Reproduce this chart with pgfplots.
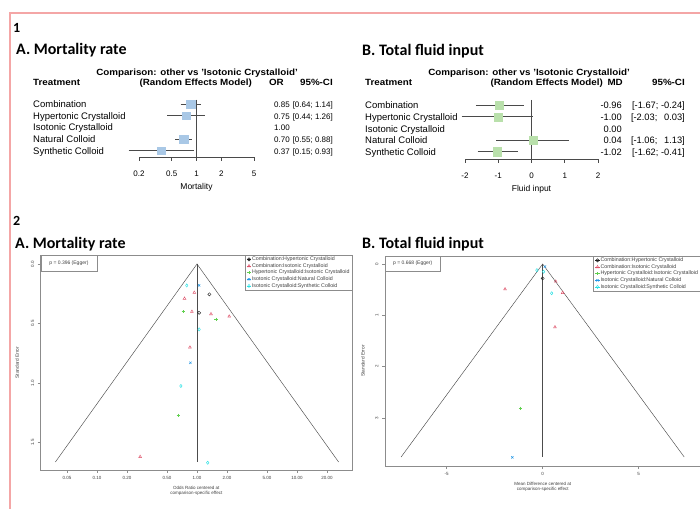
\documentclass[border=0pt]{standalone}
\usepackage{fontspec}
\setmainfont{Liberation Sans}
\newfontfamily\titlefont{Carlito}
\usepackage{pgfplots}
\pgfplotsset{compat=1.18}
\newcommand\fs[1]{\fontsize{#1}{#1}\selectfont}
\newcommand\hd[1]{\scalebox{1.09}[1]{\bfseries\fs{9}#1}}
\definecolor{framec}{HTML}{F4A6A6}
\definecolor{sqA}{HTML}{A9C8E6}
\definecolor{sqB}{HTML}{B9E0AB}
\definecolor{ciC}{HTML}{4A4A4A}
\definecolor{rblack}{HTML}{222222}
\definecolor{rred}{HTML}{DF536B}
\definecolor{rgreen}{HTML}{61D04F}
\definecolor{rblue}{HTML}{2297E6}
\definecolor{rcyan}{HTML}{28E2E5}
\definecolor{axg}{HTML}{8C8C8C}
\pgfplotsset{
  forest/.style={scale only axis, clip=false, y dir=reverse, axis y line=none,
    axis x line=bottom, x axis line style={-, line width=0.6pt, ciC},
    tick align=outside, major tick length=4pt, xtick style={line width=0.6pt, ciC},
    minor xtick={}, /pgf/number format/assume math mode=true,
    xticklabel style={font=\fs{8}, yshift=-6pt},
    xlabel style={font=\fs{8.5}, at={(axis description cs:0.5,0)}, anchor=center, yshift=-30pt}},
  ciline/.style={ciC, line width=0.8pt},
  funnel/.style={scale only axis, clip=false, y dir=reverse,
    axis line style={axg, line width=0.5pt},
    tick align=outside, major tick length=3pt, tick style={axg, line width=0.4pt},
    xtick pos=bottom, ytick pos=left, minor xtick={},
    /pgf/number format/assume math mode=true,
    ticklabel style={font=\fs{4.5}, text=black!75},
    yticklabel style={rotate=90, anchor=south},
    xlabel style={font=\fs{4.5}, align=center, text=black!75},
    ylabel style={font=\fs{4.8}, text=black!75, anchor=center},
    legend style={font=\fs{5.3}, draw=axg, line width=0.4pt, text=black!75,
      at={(1,1)}, anchor=north east, inner xsep=2pt, inner ysep=1.2pt,
      row sep=0.7pt, nodes={inner sep=0.3pt}, cells={anchor=west}},
    legend image code/.code={\path (-2pt,0pt) -- (2.5pt,0pt); \draw[##1] plot coordinates {(0pt,0pt)};},
    tri/.style={gray!60!black, line width=0.45pt}},
  pk/.style={only marks, mark size=1.6pt, line width=0.45pt}
}
\begin{document}
\begin{tikzpicture}[x=1pt,y=1pt]
\useasboundingbox (0,0) rectangle (700,508);
\fill[white] (0,0) rectangle (700,508);
\draw[framec, line width=1.4pt] (10,-2) -- (10,495) -- (702,495);

% titles
\node[anchor=base west, inner sep=0, font=\titlefont\bfseries\fs{14}] at (13,475) {1};
\node[anchor=base west, inner sep=0, font=\titlefont\bfseries\fs{16}] at (16,453) {A. Mortality rate};
\node[anchor=base west, inner sep=0, font=\titlefont\bfseries\fs{16}] at (362,452) {B. Total fluid input};
\node[anchor=base west, inner sep=0, font=\titlefont\bfseries\fs{14}] at (13,282) {2};
\node[anchor=base west, inner sep=0, font=\titlefont\bfseries\fs{16}] at (15,259) {A. Mortality rate};
\node[anchor=base west, inner sep=0, font=\titlefont\bfseries\fs{16}] at (362,259) {B. Total fluid input};

% ---------- Forest A ----------
\begin{scope}[every node/.style={inner sep=0}]
\node[anchor=base] at (197,432.2) {\hd{Comparison: other vs 'Isotonic Crystalloid'}};
\node[anchor=base west] at (33,422.5) {\hd{Treatment}};
\node[anchor=base east] at (252,422.5) {\hd{(Random Effects Model)}};
\node[anchor=base east] at (284,422.5) {\hd{OR}};
\node[anchor=base east] at (333,422.5) {\hd{95\%-CI}};
\foreach \lab/\yy in {Combination/400.2, Hypertonic Crystalloid/388.6, Isotonic Crystalloid/377.0, Natural Colloid/365.4, Synthetic Colloid/353.8}
  \node[anchor=base west, font=\fs{9.5}] at (33,\yy) {\lab};
\foreach \v/\ci/\yy in {0.85/{[0.64; 1.14]}/400.2, 0.75/{[0.44; 1.26]}/388.6, 1.00/{}/377.0, 0.70/{[0.55; 0.88]}/365.4, 0.37/{[0.15; 0.93]}/353.8}{
  \node[anchor=base east, font=\fs{8}] at (290,\yy) {\v};
  \node[anchor=base east, font=\fs{8}] at (333,\yy) {\ci};}
\end{scope}
\begin{axis}[forest, at={(139pt,351pt)}, anchor=south west, width=115pt, height=58.6pt,
  xmode=log, xmin=0.2, xmax=5, ymin=0.5, ymax=5.55,
  xtick={0.2,0.5,1,2,5}, xticklabels={0.2,0.5,1,2,5}, xlabel={Mortality}]
\addplot[ciC, line width=0.6pt] coordinates {(1,0.6) (1,5.55)};
\addplot[only marks, mark=square*, mark size=4.3pt, sqA, mark options={draw=none}] coordinates {(0.85,1) (0.70,4)};
\addplot[only marks, mark=square*, mark size=3.8pt, sqA, mark options={draw=none}] coordinates {(0.75,2) (0.37,5)};
\addplot[ciline] coordinates {(0.64,1) (1.14,1)};
\addplot[ciline] coordinates {(0.44,2) (1.26,2)};
\addplot[ciline] coordinates {(0.55,4) (0.88,4)};
\addplot[ciline] coordinates {(0.15,5) (0.93,5)};
\end{axis}

% ---------- Forest B ----------
\begin{scope}[every node/.style={inner sep=0}]
\node[anchor=base] at (529,432.2) {\hd{Comparison: other vs 'Isotonic Crystalloid'}};
\node[anchor=base west] at (365,422.5) {\hd{Treatment}};
\node[anchor=base east] at (603,422.5) {\hd{(Random Effects Model)}};
\node[anchor=base east] at (623,422.5) {\hd{MD}};
\node[anchor=base east] at (685,422.5) {\hd{95\%-CI}};
\foreach \lab/\yy in {Combination/399.2, Hypertonic Crystalloid/387.55, Isotonic Crystalloid/375.9, Natural Colloid/364.25, Synthetic Colloid/352.6}
  \node[anchor=base west, font=\fs{9.5}] at (365,\yy) {\lab};
\foreach \v/\ci/\yy in {-0.96/{[-1.67; -0.24]}/399.2, -1.00/{[-2.03; \ \,0.03]}/387.55, 0.00/{}/375.9, 0.04/{[-1.06; \ \,1.13]}/364.25, -1.02/{[-1.62; -0.41]}/352.6}{
  \node[anchor=base east, font=\fs{9.3}] at (622,\yy) {\v};
  \node[anchor=base east, font=\fs{9.3}] at (685,\yy) {\ci};}
\end{scope}
\begin{axis}[forest, at={(465pt,349pt)}, anchor=south west, width=133pt, height=59.6pt,
  xmin=-2, xmax=2, ymin=0.5, ymax=5.62,
  xtick={-2,-1,0,1,2}, xticklabels={-2,-1,0,1,2}, xlabel={Fluid input}]
\addplot[ciC, line width=0.6pt] coordinates {(0,0.55) (0,5.62)};
\addplot[only marks, mark=square*, mark size=4.1pt, sqB, mark options={draw=none}] coordinates {(-0.96,1) (-1.00,2) (0.04,4) (-1.02,5)};
\addplot[ciline] coordinates {(-1.67,1) (-0.24,1)};
\addplot[ciline] coordinates {(-2.10,2) (0.03,2)};
\addplot[ciline] coordinates {(-1.06,4) (1.13,4)};
\addplot[ciline] coordinates {(-1.62,5) (-0.41,5)};
\end{axis}

% ---------- Funnel A ----------
\begin{axis}[funnel, at={(40.7pt,38pt)}, anchor=south west, width=311.3pt, height=215pt,
  xmode=log, xmin=0.02735, xmax=35.5, ymin=-0.0756, ymax=1.731,
  xtick={0.05,0.1,0.2,0.5,1,2,5,10,20},
  xticklabels={0.05,0.10,0.20,0.50,1.00,2.00,5.00,10.00,20.00},
  ytick={0,0.5,1,1.5}, yticklabels={0.0,0.5,1.0,1.5},
  xlabel={Odds Ratio centered at\\comparison-specific effect},
  ylabel={Standard Error},
  ylabel style={at={(axis description cs:-0.076,0.5)}}]
\addplot[tri, forget plot] coordinates {(0.03834,1.664) (1,0) (26.08,1.664)};
\addplot[tri, forget plot] coordinates {(1,0) (1,1.664)};
\addplot[pk, rblack, mark=o] coordinates {(1.33,0.255) (1.05,0.41)};
\addlegendentry{Combination:Hypertonic Crystalloid}
\addplot[pk, rred, mark=triangle] coordinates {(0.94,0.24) (0.75,0.29) (0.89,0.40) (1.38,0.42) (2.1,0.44) (0.85,0.70) (0.27,1.62)};
\addlegendentry{Combination:Isotonic Crystalloid}
\addplot[pk, rgreen, mark=+] coordinates {(0.73,0.40) (1.55,0.465) (0.65,1.27)};
\addlegendentry{Hypertonic Crystalloid:Isotonic Crystalloid}
\addplot[pk, rblue, mark=x] coordinates {(1.05,0.18) (0.86,0.83)};
\addlegendentry{Isotonic Crystalloid:Natural Colloid}
\addplot[pk, rcyan, mark=diamond] coordinates {(0.79,0.18) (1.05,0.55) (0.69,1.025) (1.28,1.67)};
\addlegendentry{Isotonic Crystalloid:Synthetic Colloid}
\node[draw=axg, line width=0.4pt, anchor=north west, minimum width=56pt, minimum height=16pt, inner sep=0pt, font=\fs{5}, text=black!75] at (axis description cs:0,1) {p = 0.396 (Egger)};
\end{axis}

% ---------- Funnel B ----------
\begin{axis}[funnel, at={(385pt,42pt)}, anchor=south west, width=315.5pt, height=210pt,
  xmin=-8.21, xmax=8.22, ymin=-0.156, ymax=3.938,
  xtick={-5,0,5}, xticklabels={-5,0,5},
  ytick={0,1,2,3}, yticklabels={0,1,2,3},
  xlabel={Mean Difference centered at\\comparison-specific effect},
  ylabel={Standard Error},
  ylabel style={at={(axis description cs:-0.07,0.5)}}]
\addplot[tri, forget plot] coordinates {(-7.37,3.762) (0,0) (7.37,3.762)};
\addplot[tri, forget plot] coordinates {(0,0) (0,3.762)};
\addplot[pk, rblack, mark=o] coordinates {(0,0.28)};
\addlegendentry{Combination:Hypertonic Crystalloid}
\addplot[pk, rred, mark=triangle] coordinates {(0.68,0.34) (-1.96,0.49) (1.04,0.56) (0.64,1.23)};
\addlegendentry{Combination:Isotonic Crystalloid}
\addplot[pk, rgreen, mark=+] coordinates {(-1.15,2.81)};
\addlegendentry{Hypertonic Crystalloid:Isotonic Crystalloid}
\addplot[pk, rblue, mark=x] coordinates {(0.12,0.05) (-1.58,3.77)};
\addlegendentry{Isotonic Crystalloid:Natural Colloid}
\addplot[pk, rcyan, mark=diamond] coordinates {(-0.3,0.12) (0.47,0.57) (0.05,0.15)};
\addlegendentry{Isotonic Crystalloid:Synthetic Colloid}
\node[draw=axg, line width=0.4pt, anchor=north west, minimum width=55pt, minimum height=15pt, inner sep=0pt, font=\fs{5}, text=black!75] at (axis description cs:0,1) {p = 0.668 (Egger)};
\end{axis}
\end{tikzpicture}
\end{document}
